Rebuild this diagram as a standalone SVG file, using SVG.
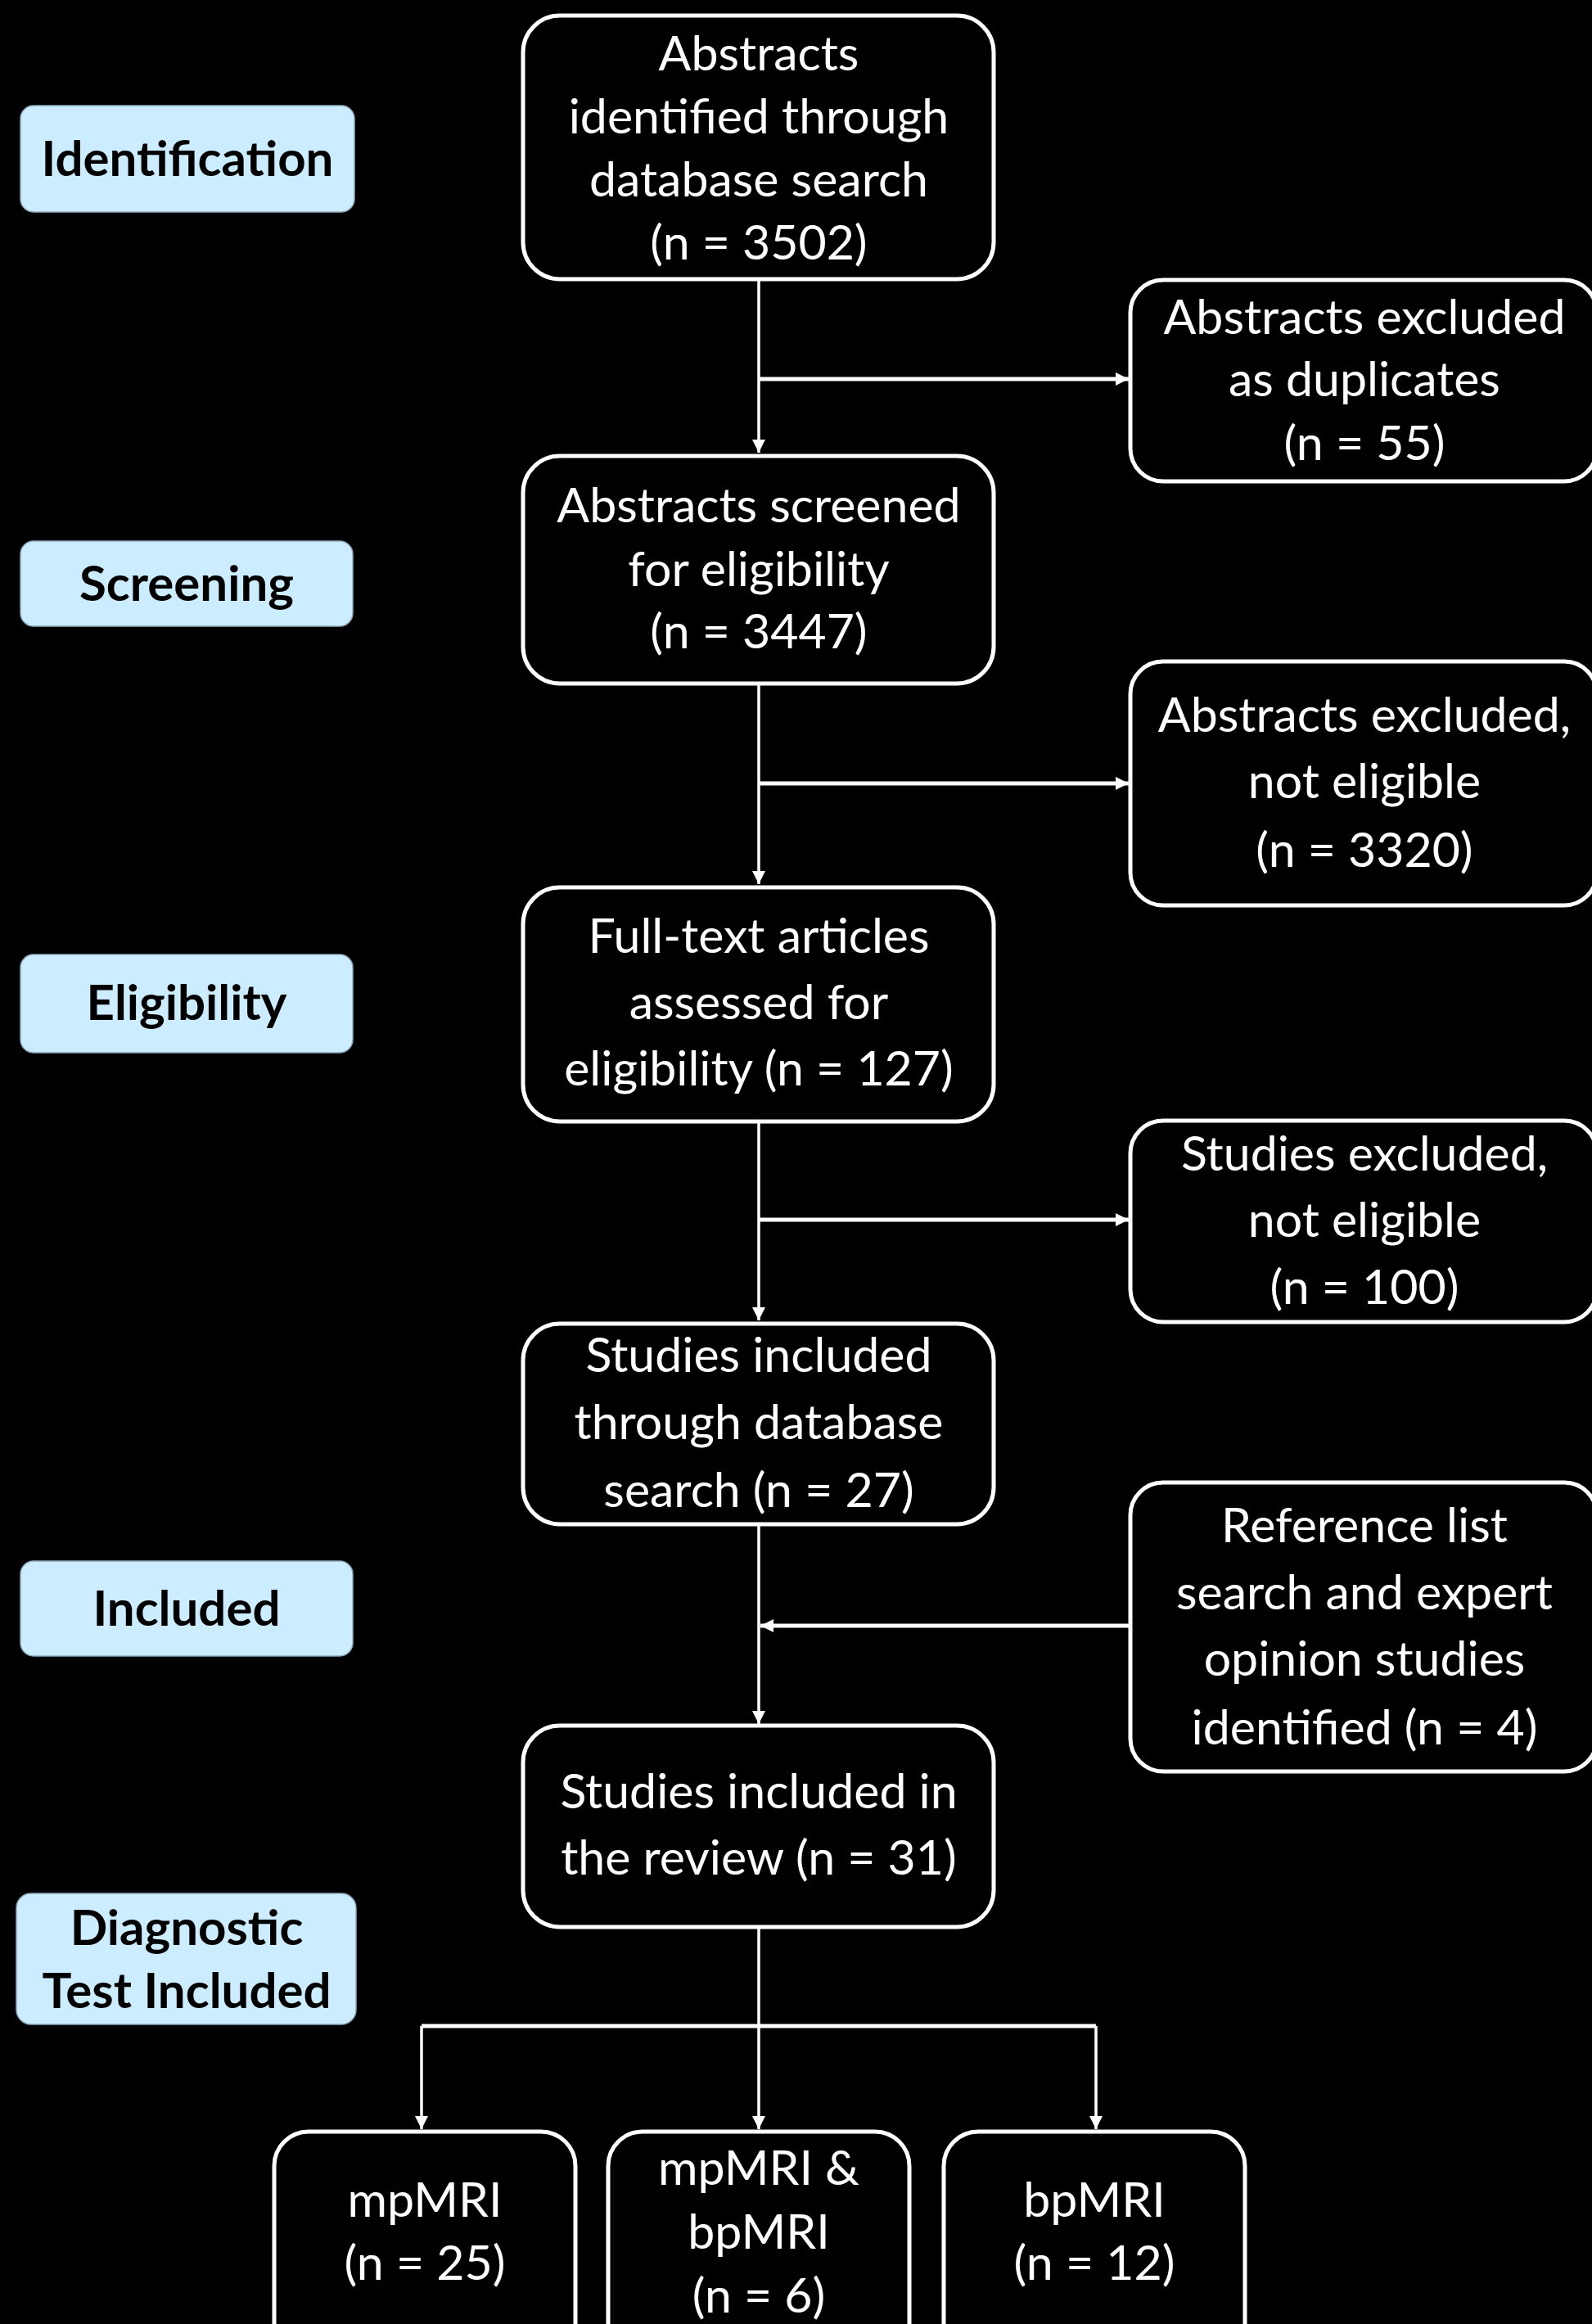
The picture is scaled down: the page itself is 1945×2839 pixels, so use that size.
<svg xmlns="http://www.w3.org/2000/svg" width="1945" height="2839" viewBox="0 0 1945 2839">
<defs>
<style>
.bg{fill:#000}
.box{fill:#000;stroke:#fff;stroke-width:5}
.lab{fill:#CCECFF;stroke:#8fa9bd;stroke-width:1.5}
.t{font-family:Lato,"Open Sans","Liberation Sans",sans-serif;font-size:59px;fill:#fff;text-anchor:middle}
.lt{font-family:Lato,"Open Sans","Liberation Sans",sans-serif;font-size:60px;font-weight:bold;fill:#000;text-anchor:middle}
.c{stroke:#fff;stroke-width:3.5;fill:none}
.h{stroke:#fff;stroke-width:5;fill:none}
</style>
<marker id="ah" viewBox="0 0 16 16" refX="16" refY="8" markerWidth="16" markerHeight="16" markerUnits="userSpaceOnUse" orient="auto">
<path d="M0,0 L16,8 L0,16 z" fill="#fff"/>
</marker>
</defs>
<rect class="bg" x="0" y="0" width="1945" height="2839"/>

<g id="connectors">
<line class="c" x1="927" y1="343" x2="927" y2="553" marker-end="url(#ah)"/>
<line class="h" x1="927" y1="463" x2="1379" y2="463" marker-end="url(#ah)"/>
<line class="c" x1="927" y1="835" x2="927" y2="1080" marker-end="url(#ah)"/>
<line class="h" x1="927" y1="957" x2="1379" y2="957" marker-end="url(#ah)"/>
<line class="c" x1="927" y1="1370" x2="927" y2="1613" marker-end="url(#ah)"/>
<line class="h" x1="927" y1="1490" x2="1379" y2="1490" marker-end="url(#ah)"/>
<line class="c" x1="927" y1="1862" x2="927" y2="2106" marker-end="url(#ah)"/>
<line class="h" x1="1381" y1="1986" x2="929" y2="1986" marker-end="url(#ah)"/>
<line class="c" x1="927" y1="2354" x2="927" y2="2601" marker-end="url(#ah)"/>
<line class="h" x1="515" y1="2475" x2="1339" y2="2475"/>
<line class="c" x1="515" y1="2475" x2="515" y2="2601" marker-end="url(#ah)"/>
<line class="c" x1="1339" y1="2475" x2="1339" y2="2601" marker-end="url(#ah)"/>
</g>

<g id="label-identification">
<rect class="lab" x="25" y="129" width="408" height="130" rx="16"/>
<text class="lt" x="229" y="215">Identification</text>
</g>
<g id="label-screening">
<rect class="lab" x="25" y="661" width="406" height="104" rx="16"/>
<text class="lt" x="228" y="734">Screening</text>
</g>
<g id="label-eligibility">
<rect class="lab" x="25" y="1166" width="406" height="120" rx="16"/>
<text class="lt" x="228" y="1246">Eligibility</text>
</g>
<g id="label-included">
<rect class="lab" x="25" y="1907" width="406" height="116" rx="16"/>
<text class="lt" x="228" y="1986">Included</text>
</g>
<g id="label-diagnostic">
<rect class="lab" x="20" y="2313" width="415" height="160" rx="18"/>
<text class="lt" x="228" y="2376">Diagnostic</text>
<text class="lt" x="228" y="2453">Test Included</text>
</g>

<g id="node-identified">
<rect class="box" x="639" y="19" width="575" height="322" rx="45"/>
<text class="t" x="927" y="86">Abstracts</text>
<text class="t" x="927" y="163">identified through</text>
<text class="t" x="927" y="240">database search</text>
<text class="t" x="927" y="317">(n = 3502)</text>
</g>
<g id="node-duplicates">
<rect class="box" x="1381" y="342" width="570" height="246" rx="40"/>
<text class="t" x="1667" y="408">Abstracts excluded</text>
<text class="t" x="1667" y="484">as duplicates</text>
<text class="t" x="1667" y="562">(n = 55)</text>
</g>
<g id="node-screened">
<rect class="box" x="639" y="557" width="575" height="278" rx="45"/>
<text class="t" x="927" y="638">Abstracts screened</text>
<text class="t" x="927" y="716">for eligibility</text>
<text class="t" x="927" y="792">(n = 3447)</text>
</g>
<g id="node-not-eligible">
<rect class="box" x="1381" y="808" width="570" height="298" rx="40"/>
<text class="t" x="1667" y="894">Abstracts excluded,</text>
<text class="t" x="1667" y="975">not eligible</text>
<text class="t" x="1667" y="1059">(n = 3320)</text>
</g>
<g id="node-fulltext">
<rect class="box" x="639" y="1084" width="575" height="286" rx="45"/>
<text class="t" x="927" y="1164">Full-text articles</text>
<text class="t" x="927" y="1245">assessed for</text>
<text class="t" x="927" y="1326">eligibility (n = 127)</text>
</g>
<g id="node-studies-excluded">
<rect class="box" x="1381" y="1369" width="570" height="246" rx="40"/>
<text class="t" x="1667" y="1430">Studies excluded,</text>
<text class="t" x="1667" y="1511">not eligible</text>
<text class="t" x="1667" y="1593">(n = 100)</text>
</g>
<g id="node-included-db">
<rect class="box" x="639" y="1617" width="575" height="245" rx="45"/>
<text class="t" x="927" y="1676">Studies included</text>
<text class="t" x="927" y="1758">through database</text>
<text class="t" x="927" y="1841">search (n = 27)</text>
</g>
<g id="node-reference">
<rect class="box" x="1381" y="1811" width="570" height="353" rx="40"/>
<text class="t" x="1667" y="1884">Reference list</text>
<text class="t" x="1667" y="1966">search and expert</text>
<text class="t" x="1667" y="2047">opinion studies</text>
<text class="t" x="1667" y="2131">identified (n = 4)</text>
</g>
<g id="node-review">
<rect class="box" x="639" y="2108" width="575" height="246" rx="45"/>
<text class="t" x="927" y="2209">Studies included in</text>
<text class="t" x="927" y="2290">the review (n = 31)</text>
</g>
<g id="node-mpmri">
<rect class="box" x="335" y="2604" width="368" height="280" rx="42"/>
<text class="t" x="519" y="2708">mpMRI</text>
<text class="t" x="519" y="2785">(n = 25)</text>
</g>
<g id="node-both">
<rect class="box" x="743" y="2604" width="368" height="280" rx="42"/>
<text class="t" x="927" y="2669">mpMRI &amp;</text>
<text class="t" x="927" y="2747">bpMRI</text>
<text class="t" x="927" y="2825">(n = 6)</text>
</g>
<g id="node-bpmri">
<rect class="box" x="1153" y="2604" width="368" height="280" rx="42"/>
<text class="t" x="1337" y="2708">bpMRI</text>
<text class="t" x="1337" y="2785">(n = 12)</text>
</g>
</svg>
